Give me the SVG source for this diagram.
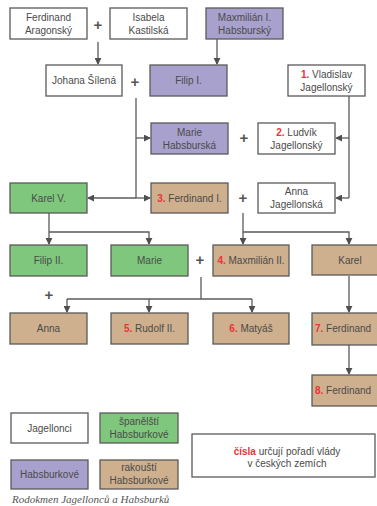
<svg xmlns="http://www.w3.org/2000/svg" width="377" height="506" viewBox="0 0 377 506">
<style>
.b{stroke:#5a5a5a;stroke-width:1.3}
.w{fill:#ffffff}.p{fill:#a9a1cd}.g{fill:#7ec77c}.t{fill:#cfb08e}
text{font-family:"Liberation Sans",Arial,sans-serif;font-size:10px;fill:#4a4a4a;text-anchor:middle}
.n{fill:#e8343a;font-weight:bold}
.pl{font-size:15px;font-weight:bold;fill:#555}
.c{stroke:#5a5a5a;stroke-width:1.3;fill:none}
.edge{text-anchor:start}
.cap{font-family:"Liberation Serif",serif;font-style:italic;font-size:11px;text-anchor:start;fill:#555}
</style>
<defs>
<marker id="a" viewBox="0 0 8 8" refX="7" refY="4" markerWidth="7" markerHeight="7" markerUnits="userSpaceOnUse" orient="auto">
<path d="M0,0 L8,4 L0,8 z" fill="#4f4f4f"/>
</marker>
</defs>
<rect width="377" height="506" fill="#ffffff"/>
<g id="connectors">
<path class="c" d="M98,42 V64" marker-end="url(#a)"/>
<path class="c" d="M217,39 V64" marker-end="url(#a)"/>
<path class="c" d="M136,98 V198"/>
<path class="c" d="M136,138 H150" marker-end="url(#a)"/>
<path class="c" d="M136,198 H88" marker-end="url(#a)"/>
<path class="c" d="M136,198 H150" marker-end="url(#a)"/>
<path class="c" d="M349,96 V198"/>
<path class="c" d="M349,138 H336" marker-end="url(#a)"/>
<path class="c" d="M349,198 H336" marker-end="url(#a)"/>
<path class="c" d="M49,213 V244" marker-end="url(#a)"/>
<path class="c" d="M49,232 H149 V244" marker-end="url(#a)"/>
<path class="c" d="M243,213 V244" marker-end="url(#a)"/>
<path class="c" d="M243,232 H349 V244" marker-end="url(#a)"/>
<path class="c" d="M201,277 V299"/>
<path class="c" d="M67,299 H252"/>
<path class="c" d="M67,299 V312" marker-end="url(#a)"/>
<path class="c" d="M149,299 V312" marker-end="url(#a)"/>
<path class="c" d="M252,299 V312" marker-end="url(#a)"/>
<path class="c" d="M349,276 V312" marker-end="url(#a)"/>
<path class="c" d="M349,345 V374" marker-end="url(#a)"/>
</g>
<g id="plus">
<text class="pl" x="98" y="30">+</text>
<text class="pl" x="135" y="87">+</text>
<text class="pl" x="244" y="143">+</text>
<text class="pl" x="243" y="203">+</text>
<text class="pl" x="200" y="265">+</text>
<text class="pl" x="49" y="300">+</text>
</g>
<g id="ferdinand-aragonsky"><rect class="b w" x="10" y="8" width="77" height="31"/><text x="48.5" y="21">Ferdinand</text><text x="48.5" y="34">Aragonský</text></g>
<g id="isabela-kastilska"><rect class="b w" x="110" y="8" width="77" height="31"/><text x="148.5" y="21">Isabela</text><text x="148.5" y="34">Kastilská</text></g>
<g id="maxmilian-1"><rect class="b p" x="206" y="8" width="77" height="31"/><text x="244.5" y="21">Maxmilián I.</text><text x="244.5" y="34">Habsburský</text></g>
<g id="johana-silena"><rect class="b w" x="46" y="65" width="76" height="31"/><text x="84" y="84">Johana Šílená</text></g>
<g id="filip-1"><rect class="b p" x="150" y="65" width="77" height="31"/><text x="188.5" y="84">Filip I.</text></g>
<g id="vladislav"><rect class="b w" x="288" y="65" width="77" height="31"/><text x="326.5" y="78"><tspan class="n">1.</tspan> Vladislav</text><text x="326.5" y="91">Jagellonský</text></g>
<g id="marie-habsburska"><rect class="b p" x="151" y="123" width="77" height="31"/><text x="189.5" y="136">Marie</text><text x="189.5" y="149">Habsburská</text></g>
<g id="ludvik"><rect class="b w" x="258" y="123" width="77" height="31"/><text x="296.5" y="136"><tspan class="n">2.</tspan> Ludvík</text><text x="296.5" y="149">Jagellonský</text></g>
<g id="karel-v"><rect class="b g" x="10" y="183" width="77" height="30"/><text x="48.5" y="202">Karel V.</text></g>
<g id="ferdinand-1"><rect class="b t" x="151" y="183" width="77" height="30"/><text x="189.5" y="202"><tspan class="n">3.</tspan> Ferdinand I.</text></g>
<g id="anna-jagellonska"><rect class="b w" x="258" y="183" width="77" height="30"/><text x="296.5" y="195">Anna</text><text x="296.5" y="208">Jagellonská</text></g>
<g id="filip-2"><rect class="b g" x="10" y="245" width="77" height="31"/><text x="48.5" y="264">Filip II.</text></g>
<g id="marie"><rect class="b g" x="111" y="245" width="77" height="31"/><text x="149.5" y="264">Marie</text></g>
<g id="maxmilian-2"><rect class="b t" x="213" y="245" width="76" height="31"/><text x="251" y="264"><tspan class="n">4.</tspan> Maxmilián II.</text></g>
<g id="karel"><rect class="b t" x="312" y="245" width="77" height="30"/><text x="350" y="264">Karel</text></g>
<g id="anna"><rect class="b t" x="10" y="313" width="77" height="31"/><text x="48.5" y="332">Anna</text></g>
<g id="rudolf-2"><rect class="b t" x="111" y="313" width="77" height="31"/><text x="149.5" y="332"><tspan class="n">5.</tspan> Rudolf II.</text></g>
<g id="matyas"><rect class="b t" x="213" y="313" width="76" height="31"/><text x="251" y="332"><tspan class="n">6.</tspan> Matyáš</text></g>
<g id="ferdinand-7"><rect class="b t" x="312" y="313" width="77" height="32"/><text class="edge" x="315" y="332"><tspan class="n">7.</tspan> Ferdinand</text></g>
<g id="ferdinand-8"><rect class="b t" x="312" y="375" width="77" height="31"/><text class="edge" x="315" y="394"><tspan class="n">8.</tspan> Ferdinand</text></g>
<g id="legend-jagellonci"><rect class="b w" x="11" y="413" width="77" height="30"/><text x="49.5" y="432">Jagellonci</text></g>
<g id="legend-spanelsti"><rect class="b g" x="100" y="413" width="78" height="30"/><text x="139" y="425">španělští</text><text x="139" y="438">Habsburkové</text></g>
<g id="legend-habsburkove"><rect class="b p" x="11" y="460" width="77" height="29"/><text x="49.5" y="478">Habsburkové</text></g>
<g id="legend-rakousti"><rect class="b t" x="100" y="460" width="78" height="29"/><text x="139" y="471">rakouští</text><text x="139" y="484">Habsburkové</text></g>
<g id="legend-info"><rect class="b w" x="192" y="434" width="183" height="43"/><text x="287" y="455"><tspan class="n">čísla</tspan> určují pořadí vlády</text><text x="287" y="467">v českých zemích</text></g>
<text class="cap" x="12" y="503">Rodokmen Jagellonců a Habsburků</text>
</svg>
